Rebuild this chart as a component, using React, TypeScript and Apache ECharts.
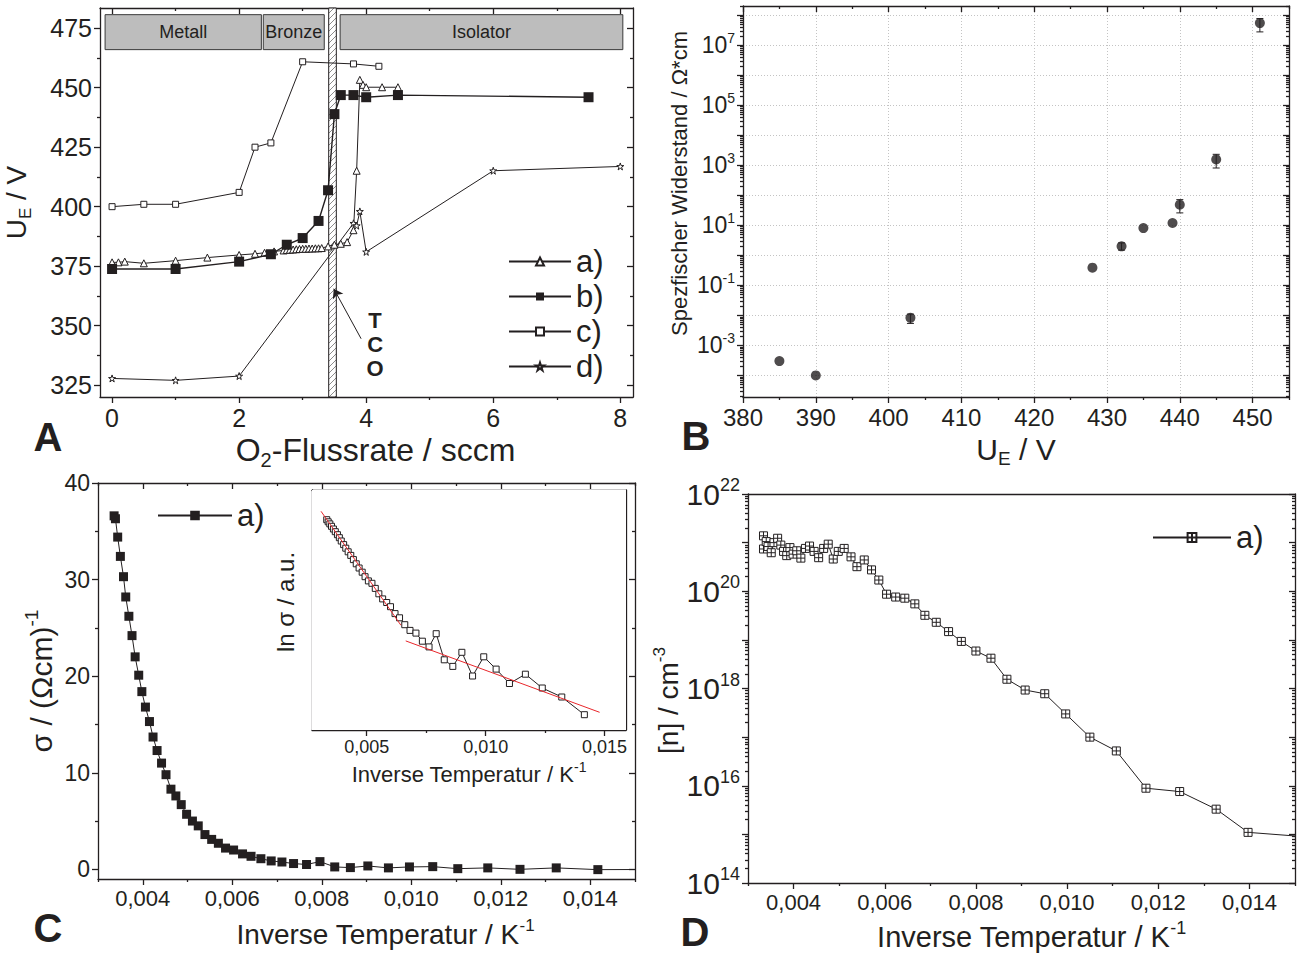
import React, { useEffect, useRef } from 'react';
import * as echarts from 'echarts';

// ---------------- Panel A: U_E vs O2 flow rate ----------------
const flowA = [0, 0.1, 0.2, 0.5, 1.0, 1.5, 2.0, 2.25, 2.4, 2.55, 2.7, 2.75, 2.8, 2.85, 2.9, 2.95, 3.0, 3.05, 3.1, 3.15, 3.2, 3.25, 3.3, 3.4, 3.5, 3.6, 3.7, 3.8, 3.85, 3.9, 3.95, 4.0, 4.25, 4.5];
const voltA = [376.6, 376.6, 376.9, 376.2, 377.3, 378.6, 379.7, 380.2, 380.6, 381.2, 381.6, 381.8, 381.9, 382.0, 382.1, 382.2, 382.3, 382.3, 382.4, 382.4, 382.5, 382.5, 382.6, 383.3, 384.0, 384.4, 385.1, 390.1, 415.1, 453.3, 451.2, 450.2, 450.2, 450.2];
const flowB = [0, 1, 2, 2.5, 2.75, 3.0, 3.25, 3.4, 3.5, 3.6, 3.8, 4.0, 4.5, 7.5];
const voltB = [373.8, 373.8, 376.9, 380, 384, 386.8, 394, 406.9, 438.9, 446.9, 446.9, 446, 446.9, 446];
const flowC = [0, 0.5, 1, 2, 2.25, 2.5, 3, 3.8, 4.2];
const voltC = [400, 401, 401, 406, 425, 426.8, 460.9, 460, 459];
const flowD = [0, 1, 2, 3.8, 3.85, 3.9, 4.0, 6, 8];
const voltD = [327.8, 327, 328.8, 393, 392, 398, 381, 415.1, 416.9];
const phaseNames = ['Metall', 'Bronze', 'Isolator'];
const phaseFrom = [-0.11, 2.38, 3.59];
const phaseTo = [2.35, 3.34, 8.04];
const phaseV = [466, 480.7];
const tcoBand = [3.41, 3.53];
const tcoArrowFrom = [3.92, 344.5];
const tcoArrowTo = [3.49, 365.5];
const tcoLabelAt = [4.14, 342];
const ticksAX = [0, 2, 4, 6, 8];
const minorAX = [1, 3, 5, 7];
const ticksAY = [325, 350, 375, 400, 425, 450, 475];
const minorAY = [337.5, 362.5, 387.5, 412.5, 437.5, 462.5];

// ---------------- Panel B: resistivity vs U_E ----------------
const voltBPanel = [385, 390, 403, 428, 432, 435, 439, 440, 445, 451];
const resistivity = [3.0e-4, 1.0e-4, 8.3e-3, 0.39, 2.0, 8.1, 12, 49, 1580, 5.5e7];
const resErrLow = [null, null, 5.4e-3, null, 1.5, null, null, 26, 815, 2.8e7];
const resErrHigh = [null, null, 1.1e-2, null, 2.6, null, null, 72, 2330, 7.8e7];
const ticksBX = [380, 390, 400, 410, 420, 430, 440, 450];
const minorBX = [385, 395, 405, 415, 425, 435, 445, 455];
const decadesB = [-4, -3, -2, -1, 0, 1, 2, 3, 4, 5, 6, 7, 8];
const labelDecadesB = [-3, -1, 1, 3, 5, 7];

// ---------------- Panel C: conductivity vs inverse temperature ----------------
const invTC = [0.00336, 0.00339, 0.00344, 0.0035, 0.00357, 0.00362, 0.00369, 0.00376, 0.00383, 0.00391, 0.00398, 0.00406, 0.00415, 0.00423, 0.00432, 0.00442, 0.00452, 0.00463, 0.00474, 0.00486, 0.00498, 0.00511, 0.00524, 0.00539, 0.00554, 0.00569, 0.00585, 0.00603, 0.00623, 0.00642, 0.00664, 0.00687, 0.00711, 0.00737, 0.00766, 0.00796, 0.00829, 0.00864, 0.00903, 0.00949, 0.00996, 0.01048, 0.01104, 0.01171, 0.01243, 0.01324, 0.01417, 0.0167];
const sigmaC = [36.6, 36.3, 34.4, 32.4, 30.3, 28.2, 26.2, 24.2, 22.0, 20.1, 18.4, 16.8, 15.3, 13.7, 12.3, 11.0, 9.8, 8.3, 7.6, 6.7, 5.7, 5.0, 4.5, 3.6, 3.1, 2.7, 2.2, 2.0, 1.6, 1.35, 1.1, 0.87, 0.76, 0.6, 0.5, 0.8, 0.25, 0.18, 0.35, 0.15, 0.25, 0.28, 0.07, 0.15, 0.0, 0.15, -0.03, 0.0];
const ticksCX = [0.004, 0.006, 0.008, 0.010, 0.012, 0.014];
const minorCX = [0.003, 0.005, 0.007, 0.009, 0.011, 0.013, 0.015];
const ticksCY = [0, 10, 20, 30, 40];
const minorCY = [5, 15, 25, 35];

// inset: ln sigma (arbitrary units)
const invTInset = [0.00332, 0.00338, 0.00345, 0.00352, 0.0036, 0.00368, 0.00377, 0.00385, 0.00393, 0.00403, 0.00412, 0.00422, 0.00433, 0.00444, 0.00456, 0.00468, 0.00481, 0.00493, 0.00507, 0.00522, 0.00536, 0.00551, 0.00567, 0.00584, 0.006, 0.00619, 0.00638, 0.0066, 0.00682, 0.00707, 0.00734, 0.00762, 0.00792, 0.00826, 0.00862, 0.009, 0.00945, 0.00992, 0.01044, 0.011, 0.01167, 0.01238, 0.0132, 0.01415];
const lnSigmaInset = [6.01, 5.94, 5.87, 5.79, 5.7, 5.61, 5.51, 5.41, 5.3, 5.18, 5.06, 4.94, 4.82, 4.68, 4.54, 4.4, 4.26, 4.11, 3.97, 3.89, 3.72, 3.54, 3.37, 3.25, 3.11, 2.88, 2.74, 2.51, 2.32, 2.23, 1.96, 1.77, 2.21, 1.34, 1.12, 1.59, 0.8, 1.44, 1.03, 0.55, 0.86, 0.4, 0.1, -0.49];
const fitHighX = [0.00308, 0.00644];
const fitHighY = [6.29, 2.49];
const fitLowX = [0.00664, 0.01479];
const fitLowY = [1.97, -0.41];
const ticksIX = [0.005, 0.010, 0.015];
const minorIX = [0.0075, 0.0125];
const ticksIY = [0, 1, 2, 3, 4, 5, 6];

// ---------------- Panel D: carrier density vs inverse temperature ----------------
const invTD = [0.00334, 0.00334, 0.0034, 0.00344, 0.00351, 0.00357, 0.00365, 0.00372, 0.00378, 0.00385, 0.00392, 0.00399, 0.00407, 0.00416, 0.00426, 0.00435, 0.00445, 0.00455, 0.00466, 0.00476, 0.00487, 0.00498, 0.00511, 0.00526, 0.00539, 0.00555, 0.00571, 0.00587, 0.00604, 0.00624, 0.00644, 0.00666, 0.00688, 0.00713, 0.0074, 0.00768, 0.008, 0.00833, 0.00868, 0.00908, 0.00951, 0.00997, 0.0105, 0.01108, 0.01173, 0.01247, 0.01327, 0.01397, 0.0167];
const carrierD = [1.38e21, 7.4e20, 1.05e21, 8.3e20, 6.2e20, 1.0e21, 1.23e21, 8.9e20, 6.6e20, 5.4e20, 7.9e20, 5.8e20, 6.8e20, 4.8e20, 7.6e20, 8.5e20, 6.6e20, 4.9e20, 7.6e20, 9.3e20, 4.6e20, 6.6e20, 7.6e20, 5.1e20, 3.2e20, 4.4e20, 2.75e20, 1.7e20, 8.7e19, 7.6e19, 7.2e19, 5.5e19, 3.2e19, 2.3e19, 1.48e19, 9.3e18, 5.9e18, 4.2e18, 1.55e18, 9.3e17, 7.8e17, 3.0e17, 1.0e17, 5.2e16, 8.9e15, 7.6e15, 3.3e15, 1.1e15, 7.0e14];
const decadesD = [14, 15, 16, 17, 18, 19, 20, 21, 22];
const labelDecadesD = [14, 16, 18, 20, 22];

// ---------------- styling ----------------
const FONT = "'Liberation Sans', Arial, Helvetica, sans-serif";
const INK = '#231f20';
const RED = '#e8262b';
const STAR = 'path://M5,0L6.2,3.6L10,3.6L6.9,5.8L8.1,9.5L5,7.2L1.9,9.5L3.1,5.8L0,3.6L3.8,3.6Z';
const BOXPLUS = 'path://M0,0H10V10H0Z M5,0V10 M0,5H10';

const comma3 = (v: number) => v.toFixed(3).replace('.', ',');
const pow10 = (v: number) => `{b|10}{s|${Math.round(v)}}`;
const logMinor = (from: number, to: number) => {
  const out: number[] = [];
  for (let n = from; n < to; n++) for (let k = 2; k <= 9; k++) out.push(n + Math.log10(k));
  return out;
};
const zip = (xs: number[], ys: number[]) => xs.map((x, i) => [x, ys[i]]);

const subRich = (fs: number) => ({
  sub: { fontSize: Math.round(fs * 0.62), lineHeight: Math.round(fs * 0.62), verticalAlign: 'bottom', fontFamily: FONT, color: INK },
  sup: { fontSize: Math.round(fs * 0.62), lineHeight: Math.round(fs * 0.62), verticalAlign: 'top', fontFamily: FONT, color: INK },
});

type AxisOpt = {
  grid: number; dim: 'x' | 'y'; min: number; max: number;
  major: number[]; minor?: number[]; labels?: number[];
  fmt?: (v: number) => string; rich?: any; labelSize?: number;
  name?: string; nameGap?: number; nameSize?: number; namePad?: number[];
  mirror?: 'ticks' | 'line'; inside?: boolean; gridLines?: boolean;
};

function addAxis(list: any[], o: AxisOpt): number {
  const isX = o.dim === 'x';
  const lineStyle = { color: INK, width: 1.3 };
  const p1 = isX ? 'bottom' : 'left';
  const p2 = isX ? 'top' : 'right';
  const base: any = {
    type: 'value', gridIndex: o.grid, min: o.min, max: o.max, silent: true,
    axisLine: { show: false, onZero: false },
    axisTick: { show: false }, axisLabel: { show: false }, splitLine: { show: false },
    nameMoveOverlap: false,
  };
  const idx = list.length;
  const ns = o.nameSize || 28;
  list.push({
    ...base,
    position: p1,
    axisLine: { show: true, onZero: false, lineStyle },
    axisTick: { show: true, inside: !!o.inside, length: 6, customValues: o.major, lineStyle },
    axisLabel: o.labels
      ? { show: true, customValues: o.labels, formatter: o.fmt, color: INK, fontFamily: FONT, fontSize: o.labelSize || 22, margin: 8, rich: o.rich }
      : { show: false },
    splitLine: o.gridLines ? { show: true, lineStyle: { color: '#c4c4c4', type: [1, 2], width: 1 } } : { show: false },
    name: o.name, nameLocation: 'middle', nameGap: o.nameGap,
    nameTextStyle: { color: INK, fontFamily: FONT, fontSize: ns, lineHeight: Math.round(ns * 1.25), rich: subRich(ns), padding: o.namePad || 0 },
  });
  if (o.minor) list.push({ ...base, position: p1, axisTick: { show: true, inside: !!o.inside, length: 3, customValues: o.minor, lineStyle } });
  if (o.mirror) {
    const ticks = o.mirror === 'ticks';
    list.push({ ...base, position: p2, axisLine: { show: true, onZero: false, lineStyle },
      axisTick: ticks ? { show: true, inside: true, length: 6, customValues: o.major, lineStyle } : { show: false } });
    if (ticks && o.minor) list.push({ ...base, position: p2, axisTick: { show: true, inside: true, length: 3, customValues: o.minor, lineStyle } });
  }
  return idx;
}

function hatchPattern() {
  const c = document.createElement('canvas');
  c.width = 6; c.height = 6;
  const g = c.getContext('2d')!;
  g.fillStyle = '#ffffff'; g.fillRect(0, 0, 6, 6);
  g.strokeStyle = '#8c8c8c'; g.lineWidth = 1;
  g.beginPath();
  g.moveTo(0, 6); g.lineTo(6, 0);
  g.moveTo(-1, 1); g.lineTo(1, -1);
  g.moveTo(5, 7); g.lineTo(7, 5);
  g.stroke();
  return { image: c, repeat: 'repeat' };
}

function buildOption(): any {
  const xAxes: any[] = [];
  const yAxes: any[] = [];
  const grid = [
    { left: 100, top: 8, width: 533, height: 389 },
    { left: 743, top: 6, width: 546, height: 391 },
    { left: 98, top: 483, width: 537, height: 396 },
    { left: 312, top: 490, width: 314, height: 240, show: true, backgroundColor: '#fff', borderWidth: 0, z: 3 },
    { left: 748, top: 494, width: 547, height: 389 },
  ].map((g) => ({ containLabel: false, outerBoundsMode: 'none', ...g }));

  const A_MIN = 320, A_MAX = 483.5;
  const ax = addAxis(xAxes, { grid: 0, dim: 'x', min: -0.19, max: 8.2, major: ticksAX, minor: minorAX, labels: ticksAX, fmt: (v) => String(v), labelSize: 25, name: 'O{sub|2}-Flussrate / sccm', nameGap: 33, nameSize: 32, namePad: [0, 0, 0, 18], mirror: 'ticks' });
  const ay = addAxis(yAxes, { grid: 0, dim: 'y', min: A_MIN, max: A_MAX, major: ticksAY, minor: minorAY, labels: ticksAY, fmt: (v) => String(v), labelSize: 25, name: 'U{sub|E} / V', nameGap: 66, nameSize: 28, mirror: 'ticks' });

  const expRichB = { b: { fontSize: 23, lineHeight: 28, fontFamily: FONT, color: INK }, s: { fontSize: 14, lineHeight: 14, verticalAlign: 'top', fontFamily: FONT, color: INK } };
  const bx = addAxis(xAxes, { grid: 1, dim: 'x', min: 380, max: 455, major: ticksBX, minor: minorBX, labels: ticksBX, fmt: (v) => String(v), labelSize: 24, name: 'U{sub|E} / V', nameGap: 33, nameSize: 30, mirror: 'ticks', gridLines: true });
  const by = addAxis(yAxes, { grid: 1, dim: 'y', min: -4.72, max: 8.31, major: decadesB, minor: logMinor(-5, 9).filter((v) => v > -4.72 && v < 8.31), labels: labelDecadesB, fmt: pow10, rich: expRichB, name: 'Spezfischer Widerstand / Ω*cm', nameGap: 50, nameSize: 22, namePad: [0, 0, 0, 36], mirror: 'ticks', gridLines: true });

  const cx = addAxis(xAxes, { grid: 2, dim: 'x', min: 0.003, max: 0.015, major: ticksCX, minor: minorCX, labels: ticksCX, fmt: comma3, labelSize: 22, name: 'Inverse Temperatur / K{sup|-1}', nameGap: 38, nameSize: 28, namePad: [0, 0, 0, 38], mirror: 'ticks' });
  const cy = addAxis(yAxes, { grid: 2, dim: 'y', min: -1, max: 40, major: ticksCY, minor: minorCY, labels: ticksCY, fmt: (v) => String(v), labelSize: 23, name: 'σ / (Ωcm){sup|-1}', nameGap: 38, nameSize: 30, mirror: 'ticks' });

  const ix = addAxis(xAxes, { grid: 3, dim: 'x', min: 0.0027, max: 0.0159, major: ticksIX, minor: minorIX, labels: ticksIX, fmt: comma3, labelSize: 18, name: 'Inverse Temperatur / K{sup|-1}', nameGap: 30, nameSize: 22, mirror: 'line' });
  const iy = addAxis(yAxes, { grid: 3, dim: 'y', min: -1, max: 7, major: ticksIY, inside: true, name: 'ln σ / a.u.', nameGap: 12, nameSize: 24, namePad: [0, 0, 0, 16], mirror: 'ticks' });

  const expRichD = { b: { fontSize: 30, lineHeight: 36, fontFamily: FONT, color: INK }, s: { fontSize: 18, lineHeight: 18, verticalAlign: 'top', fontFamily: FONT, color: INK } };
  const dx = addAxis(xAxes, { grid: 4, dim: 'x', min: 0.003, max: 0.015, major: ticksCX, minor: minorCX, labels: ticksCX, fmt: comma3, labelSize: 22, name: 'Inverse Temperatur / K{sup|-1}', nameGap: 36, nameSize: 29, namePad: [0, 0, 0, 20], mirror: 'line' });
  const dy = addAxis(yAxes, { grid: 4, dim: 'y', min: 14, max: 22, major: decadesD, minor: logMinor(14, 22), labels: labelDecadesD, fmt: pow10, rich: expRichD, name: '[n] / cm{sup|-3}', nameGap: 62, nameSize: 28, namePad: [0, 24, 0, 0], mirror: 'ticks' });

  const open = { color: '#fff', borderColor: INK, borderWidth: 1 };
  const thin = { color: INK, width: 1 };
  const A = { xAxisIndex: ax, yAxisIndex: ay, type: 'line', silent: true };

  const series: any[] = [
    {
      ...A, name: 'c)', data: zip(flowC, voltC), symbol: 'rect', symbolSize: 6, itemStyle: open, lineStyle: thin, z: 3,
      markArea: {
        silent: true,
        itemStyle: { color: '#bdbdbd', borderColor: '#3a3a3a', borderWidth: 1 },
        label: { show: true, position: 'inside', color: INK, fontFamily: FONT, fontSize: 18 },
        data: phaseNames.map((n, i) => [{ name: n, xAxis: phaseFrom[i], yAxis: phaseV[0] }, { xAxis: phaseTo[i], yAxis: phaseV[1] }]),
      },
    },
    {
      ...A, name: 'a)', data: zip(flowA, voltA), symbol: 'triangle', symbolSize: 7, itemStyle: open, lineStyle: thin, z: 4,
      markArea: {
        silent: true,
        itemStyle: { color: hatchPattern(), borderColor: INK, borderWidth: 1 },
        label: { show: false },
        data: [[{ xAxis: tcoBand[0], yAxis: A_MIN }, { xAxis: tcoBand[1], yAxis: A_MAX }]],
      },
    },
    { ...A, name: 'b)', data: zip(flowB, voltB), symbol: 'rect', symbolSize: 10, itemStyle: { color: INK }, lineStyle: { color: INK, width: 1.4 }, z: 5 },
    {
      ...A, name: 'd)', data: zip(flowD, voltD), symbol: STAR, symbolSize: 7, itemStyle: open, lineStyle: thin, z: 4,
      markLine: {
        silent: true, symbol: ['none', 'arrow'], symbolSize: 9,
        lineStyle: { color: INK, width: 1, type: 'solid' }, label: { show: false },
        data: [[{ coord: tcoArrowFrom }, { coord: tcoArrowTo }]],
      },
      markPoint: {
        silent: true, symbol: 'rect', symbolSize: 1, itemStyle: { color: 'rgba(0,0,0,0)' },
        label: { show: true, position: 'inside', formatter: 'T\nC\nO', fontSize: 22, lineHeight: 24, fontWeight: 'bold', color: INK, fontFamily: FONT },
        data: [{ coord: tcoLabelAt }],
      },
    },
    // B
    {
      type: 'scatter', name: 'Widerstand', xAxisIndex: bx, yAxisIndex: by, silent: true,
      data: voltBPanel.map((v, i) => [v, Math.log10(resistivity[i])]),
      symbol: 'circle', symbolSize: 10, itemStyle: { color: INK }, z: 4,
    },
    {
      type: 'custom', name: 'Fehler', xAxisIndex: bx, yAxisIndex: by, silent: true,
      data: voltBPanel.map((v, i) => (resErrLow[i] == null ? null : [v, Math.log10(resErrLow[i] as number), Math.log10(resErrHigh[i] as number)])).filter((r) => r),
      encode: { x: 0, y: [1, 2] },
      renderItem: (_p: any, api: any) => {
        const x = api.value(0);
        const lo = api.coord([x, api.value(1)]);
        const hi = api.coord([x, api.value(2)]);
        const w = 3.5;
        const st = { stroke: INK, lineWidth: 1 };
        return {
          type: 'group',
          children: [
            { type: 'line', shape: { x1: lo[0], y1: lo[1], x2: hi[0], y2: hi[1] }, style: st },
            { type: 'line', shape: { x1: lo[0] - w, y1: lo[1], x2: lo[0] + w, y2: lo[1] }, style: st },
            { type: 'line', shape: { x1: hi[0] - w, y1: hi[1], x2: hi[0] + w, y2: hi[1] }, style: st },
          ],
        };
      },
      z: 3,
    },
    // C
    { type: 'line', name: 'a) ', xAxisIndex: cx, yAxisIndex: cy, silent: true, data: zip(invTC, sigmaC), symbol: 'rect', symbolSize: 9, itemStyle: { color: INK }, lineStyle: thin, z: 4 },
    // inset
    { type: 'line', name: 'ln sigma', xAxisIndex: ix, yAxisIndex: iy, silent: true, data: zip(invTInset, lnSigmaInset), symbol: 'rect', symbolSize: 6, itemStyle: open, lineStyle: thin, z: 6 },
    { type: 'line', name: 'Fit 1', xAxisIndex: ix, yAxisIndex: iy, silent: true, data: zip(fitHighX, fitHighY), symbol: 'none', lineStyle: { color: RED, width: 1 }, z: 7 },
    { type: 'line', name: 'Fit 2', xAxisIndex: ix, yAxisIndex: iy, silent: true, data: zip(fitLowX, fitLowY), symbol: 'none', lineStyle: { color: RED, width: 1 }, z: 7 },
    // D
    { type: 'line', name: 'a)  ', xAxisIndex: dx, yAxisIndex: dy, silent: true, data: invTD.map((x, i) => [x, Math.log10(carrierD[i])]), symbol: BOXPLUS, symbolSize: 8, itemStyle: open, lineStyle: thin, z: 4 },
  ];

  const legendText = { fontSize: 31, lineHeight: 35, color: INK, fontFamily: FONT };
  const legend = [
    { left: 508, top: 244, orient: 'vertical', itemWidth: 62, itemHeight: 10, itemGap: 0, padding: 0, selectedMode: false, data: ['a)', 'b)', 'c)', 'd)'], textStyle: legendText },
    { left: 157, top: 498, itemWidth: 74, itemHeight: 12, itemGap: 0, padding: 0, selectedMode: false, data: ['a) '], formatter: (n: string) => n.trim(), textStyle: legendText },
    { left: 1152, top: 520, itemWidth: 78, itemHeight: 11, itemGap: 0, padding: 0, selectedMode: false, data: ['a)  '], formatter: (n: string) => n.trim(), textStyle: legendText },
  ];

  const letters = [
    { t: 'A', x: 48, y: 437 },
    { t: 'B', x: 696, y: 436 },
    { t: 'C', x: 48, y: 928 },
    { t: 'D', x: 695, y: 932 },
  ];

  return {
    animation: false,
    backgroundColor: '#ffffff',
    textStyle: { fontFamily: FONT },
    grid,
    xAxis: xAxes,
    yAxis: yAxes,
    legend,
    series,
    graphic: letters.map((l) => ({
      type: 'text', x: l.x, y: l.y, silent: true,
      style: { text: l.t, fontSize: 40, fontWeight: 'bold', fontFamily: FONT, fill: INK, align: 'center', verticalAlign: 'middle', textAlign: 'center', textVerticalAlign: 'middle' },
    })),
  };
}

export default function App() {
  const ref = useRef<HTMLDivElement>(null);
  useEffect(() => {
    const chart = echarts.init(ref.current!, undefined, { renderer: 'svg', width: 1300, height: 955 });
    chart.setOption(buildOption());
    return () => chart.dispose();
  }, []);
  return <div ref={ref} style={{ position: 'absolute', left: 0, top: 0, width: 1300, height: 955, background: '#fff' }} />;
}
